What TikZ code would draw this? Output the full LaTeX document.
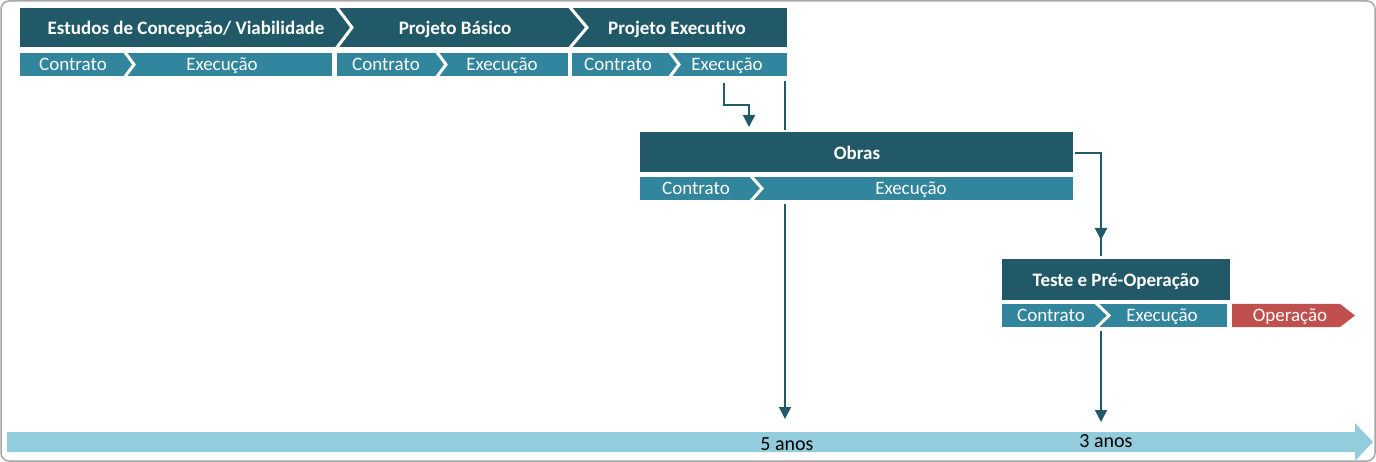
\documentclass[tikz,border=0pt]{standalone}
\usepackage{fontspec}
\setmainfont{Carlito}[Ligatures={NoCommon}]
\usetikzlibrary{arrows.meta}
\definecolor{dkteal}{HTML}{215968}
\definecolor{tealrow}{HTML}{31859C}
\definecolor{ltblue}{HTML}{93CDDD}
\definecolor{redop}{HTML}{C0504D}
\definecolor{framegray}{HTML}{A6A6A6}
\tikzset{
  hdrtxt/.style={text=white, font=\fontsize{19}{22}\selectfont\bfseries, inner sep=0pt, anchor=base},
  rowtxt/.style={text=white, font=\fontsize{19}{22}\selectfont, inner sep=0pt, anchor=base},
  axtxt/.style={text=black, font=\fontsize{20}{22}\selectfont, inner sep=0pt, anchor=base},
  sepline/.style={draw=white, line width=3pt},
  connline/.style={draw=dkteal, line width=1.4pt},
  elbowline/.style={draw=dkteal, line width=2pt},
  tipend/.style={-{Triangle[width=12pt,length=12pt]}},
}
\begin{document}
\begin{tikzpicture}[x=1pt,y=-1pt]
\useasboundingbox (0,0) rectangle (1376,462);
% frame
\draw[framegray, line width=1.5pt, rounded corners=8pt] (1,1) rectangle (1375,461);

% ---- header row (top)
\fill[dkteal] (20,8) rectangle (787,47);
\draw[sepline] (335,5) -- (352,27.5) -- (335,50);
\draw[sepline] (568,5) -- (587,27.5) -- (568,50);
\node[hdrtxt] (h1) at (186,35) {Estudos de Concepção/ Viabilidade};
\node[hdrtxt] (h2) at (455,35) {Projeto Básico};
\node[hdrtxt] (h3) at (677,35) {Projeto Executivo};

% ---- sub row
\fill[tealrow] (20,53) rectangle (332,76);
\fill[tealrow] (337,53) rectangle (568,76);
\fill[tealrow] (572,53) rectangle (787,76);
\draw[sepline] (124,51) -- (134,64.5) -- (124,78);
\draw[sepline] (436,51) -- (446,64.5) -- (436,78);
\draw[sepline] (669,51) -- (679,64.5) -- (669,78);
\node[rowtxt] (c1) at (73,70.5) {Contrato};
\node[rowtxt] (e1) at (222,70.5) {Execução};
\node[rowtxt] (c2) at (386,70.5) {Contrato};
\node[rowtxt] (e2) at (502,70.5) {Execução};
\node[rowtxt] (c3) at (618,70.5) {Contrato};
\node[rowtxt] (e3) at (727,70.5) {Execução};

% ---- Obras
\fill[dkteal] (640,132) rectangle (1073,172);
\fill[tealrow] (640,177) rectangle (1073,200);
\draw[sepline] (750,175) -- (762,188.5) -- (750,202);
\node[hdrtxt] (obras) at (857,159.5) {Obras};
\node[rowtxt] (oc) at (696,194.5) {Contrato};
\node[rowtxt] (oe) at (911,194.5) {Execução};

% ---- Teste e Pre-Operacao
\fill[dkteal] (1002,259) rectangle (1230,300);
\fill[tealrow] (1002,304) rectangle (1227,327);
\draw[sepline] (1095,302) -- (1109,315.5) -- (1095,329);
\node[hdrtxt] (teste) at (1116,286.5) {Teste e Pré-Operação};
\node[rowtxt] (tc) at (1051,322) {Contrato};
\node[rowtxt] (te) at (1162,322) {Execução};
% Operacao
\fill[redop] (1232,304) -- (1340,304) -- (1355,315.5) -- (1340,327) -- (1232,327) -- cycle;
\node[rowtxt] (op) at (1290,322) {Operação};

% ---- timeline
\fill[ltblue] (7,432) -- (1355,432) -- (1355,423) -- (1373,442) -- (1355,461) -- (1355,452) -- (7,452) -- cycle;
\node[axtxt] (a5) at (787,450) {5 anos};
\node[axtxt] (a3) at (1106,447) {3 anos};

% ---- connectors
\coordinate (pe) at (724,83);
\coordinate (ob) at (749,127);
\draw[elbowline, tipend] (pe) -- (724,105) -- (ob |- 0,105) -- (ob);

\coordinate (v1a) at (785,81);
\coordinate (v1b) at (785,130);
\coordinate (v1c) at (785,204);
\coordinate (v1d) at (785,419);
\draw[connline] (v1a) -- (v1b);
\draw[connline, tipend] (v1c) -- (v1d);

\coordinate (or) at (1075,153);
\coordinate (tt) at (1101,240);
\draw[elbowline, tipend] (or) -- (tt |- or) -- (tt);
\draw[elbowline] (1101,236) -- (1101,256);
\coordinate (v2a) at (1101,331);
\coordinate (v2b) at (1101,422);
\draw[connline, tipend] (v2a) -- (v2b);
\end{tikzpicture}
\end{document}
